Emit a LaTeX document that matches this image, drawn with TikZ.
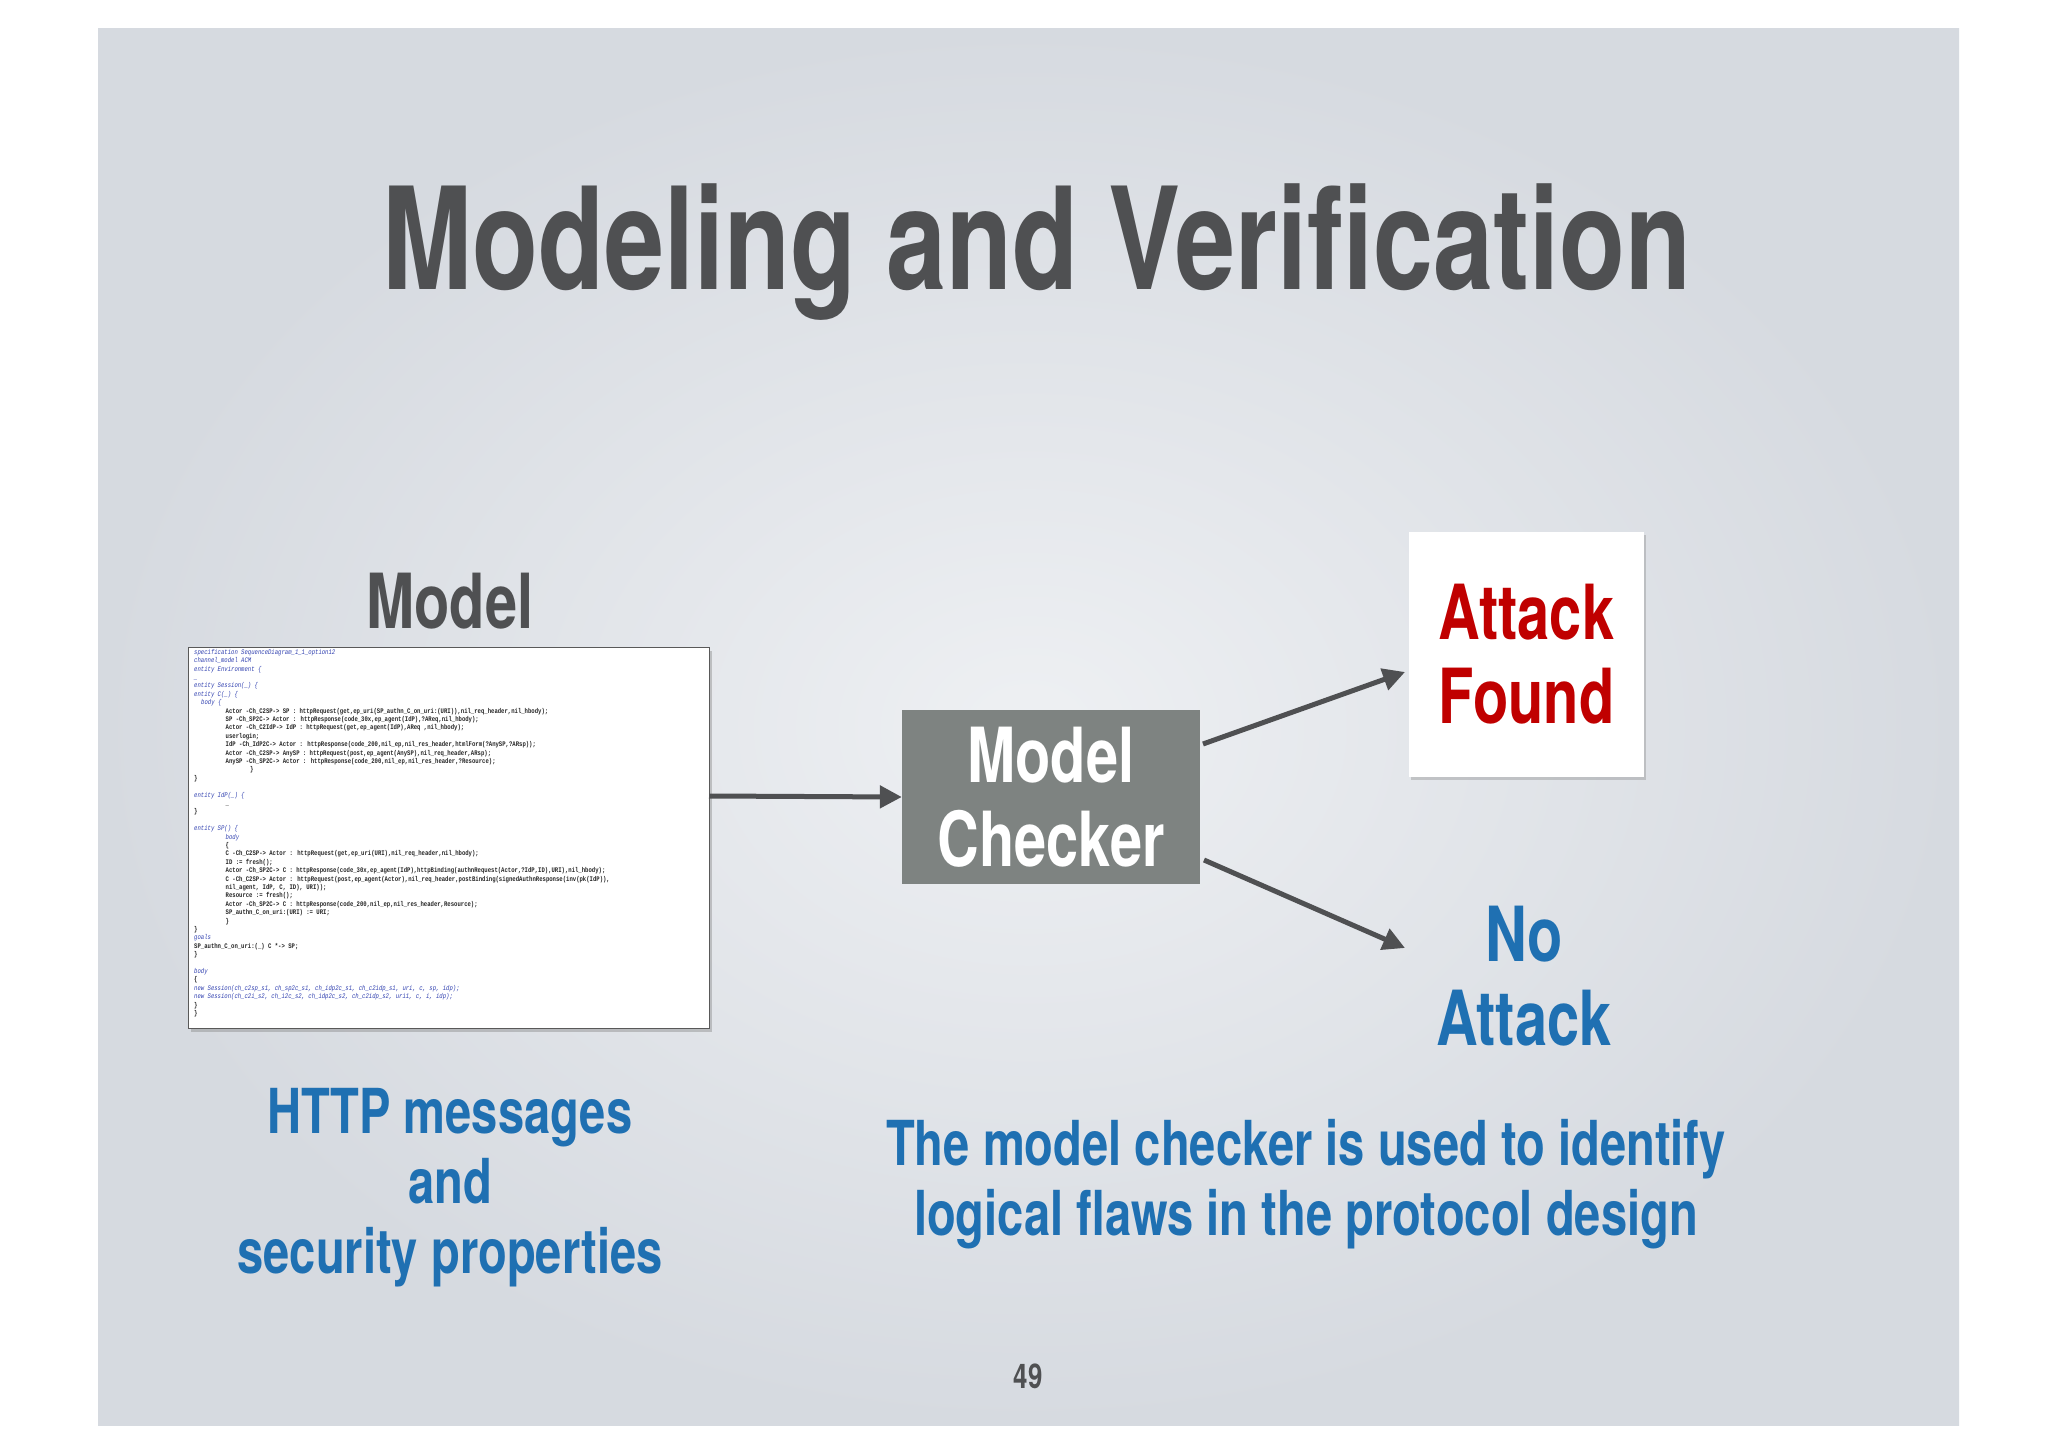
\documentclass[tikz,border=0pt]{standalone}
\usepackage{fontspec}
\setmainfont{TeX Gyre Heros}
\newfontfamily\cond[FakeStretch=0.76]{TeX Gyre Heros}
\newfontfamily\codef[FakeStretch=0.8]{Liberation Mono}
\usetikzlibrary{shadows,arrows.meta}
\definecolor{ttl}{HTML}{4F5052}
\definecolor{bl}{HTML}{1F70B2}
\definecolor{rd}{HTML}{C00000}
\definecolor{mc}{HTML}{7E8381}
\definecolor{kw}{HTML}{3040B0}
\definecolor{bgin}{HTML}{EEF0F3}
\definecolor{bgout}{HTML}{D6DAE0}
\newcommand\kw[1]{{\color{kw}\mdseries\itshape #1}}
\begin{document}
\begin{tikzpicture}[x=1pt,y=-1pt,
  big/.style={font=\cond\bfseries\fontsize{76}{84}\selectfont,align=center},
  arr/.style={draw=ttl,line width=5pt,-{Triangle[length=22pt,width=22pt]}}]
\useasboundingbox (0,0) rectangle (2048,1447);
\fill[white] (0,0) rectangle (2048,1447);
\shade[inner color=bgin, outer color=bgout] (98,29) rectangle (1959,1425);
\node[font=\cond\bfseries\fontsize{142}{150}\selectfont,text=ttl] (title) at (1037,252) {Modeling and Verification};
\node[big,text=ttl] (mlabel) at (450,601) {Model};
\node[draw=gray!70!black,line width=1pt,fill=white,drop shadow={shadow xshift=3pt,shadow yshift=-4pt,opacity=0.4},
  minimum width=521pt,minimum height=381pt,inner sep=0pt] (code) at (448.5,837.5) {};
\node[anchor=north west,inner sep=0pt,align=left,font=\codef\bfseries\fontsize{7}{8.4}\selectfont,text=black!85] at (194,649) {%
\kw{specification SequenceDiagram\_1\_1\_option12}\\
\kw{channel\_model ACM}\\
\kw{entity Environment \{}\\
\kw{\_}\\
\kw{entity Session(\_) \{}\\
\kw{entity C(\_) \{}\\
\hspace*{1em}\kw{body \{}\\
\hspace*{4.5em}Actor -Ch\_C2SP-> SP : httpRequest(get,ep\_uri(SP\_authn\_C\_on\_uri:(URI)),nil\_req\_header,nil\_hbody);\\
\hspace*{4.5em}SP -Ch\_SP2C-> Actor : httpResponse(code\_30x,ep\_agent(IdP),?AReq,nil\_hbody);\\
\hspace*{4.5em}Actor -Ch\_C2IdP-> IdP : httpRequest(get,ep\_agent(IdP),AReq ,nil\_hbody);\\
\hspace*{4.5em}userlogin;\\
\hspace*{4.5em}IdP -Ch\_IdP2C-> Actor : httpResponse(code\_200,nil\_ep,nil\_res\_header,htmlForm(?AnySP,?ARsp));\\
\hspace*{4.5em}Actor -Ch\_C2SP-> AnySP : httpRequest(post,ep\_agent(AnySP),nil\_req\_header,ARsp);\\
\hspace*{4.5em}AnySP -Ch\_SP2C-> Actor : httpResponse(code\_200,nil\_ep,nil\_res\_header,?Resource);\\
\hspace*{8em}\}\\
\}\\[8.4pt]
\kw{entity IdP(\_) \{}\\
\hspace*{4.5em}\_\\
\}\\[8.4pt]
\kw{entity SP() \{}\\
\hspace*{4.5em}\kw{body}\\
\hspace*{4.5em}\{\\
\hspace*{4.5em}C -Ch\_C2SP-> Actor : httpRequest(get,ep\_uri(URI),nil\_req\_header,nil\_hbody);\\
\hspace*{4.5em}ID := fresh();\\
\hspace*{4.5em}Actor -Ch\_SP2C-> C : httpResponse(code\_30x,ep\_agent(IdP),httpBinding(authnRequest(Actor,?IdP,ID),URI),nil\_hbody);\\
\hspace*{4.5em}C -Ch\_C2SP-> Actor : httpRequest(post,ep\_agent(Actor),nil\_req\_header,postBinding(signedAuthnResponse(inv(pk(IdP)),\\
\hspace*{4.5em}nil\_agent, IdP, C, ID), URI));\\
\hspace*{4.5em}Resource := fresh();\\
\hspace*{4.5em}Actor -Ch\_SP2C-> C : httpResponse(code\_200,nil\_ep,nil\_res\_header,Resource);\\
\hspace*{4.5em}SP\_authn\_C\_on\_uri:(URI) := URI;\\
\hspace*{4.5em}\}\\
\}\\
\kw{goals}\\
SP\_authn\_C\_on\_uri:(\_) C *-> SP;\\
\}\\[8.4pt]
\kw{body}\\
\{\\
\kw{new Session(ch\_c2sp\_s1, ch\_sp2c\_s1, ch\_idp2c\_s1, ch\_c2idp\_s1, uri, c, sp, idp);}\\
\kw{new Session(ch\_c2i\_s2, ch\_i2c\_s2, ch\_idp2c\_s2, ch\_c2idp\_s2, uri1, c, i, idp);}\\
\}\\
\}};
\node[big,fill=mc,text=white,minimum width=298pt,minimum height=174pt,inner sep=0pt] (mc) at (1051,797) {Model\\Checker};
\node[big,fill=white,text=rd,minimum width=235pt,minimum height=245pt,inner sep=0pt,
  drop shadow={shadow xshift=2pt,shadow yshift=-3pt,opacity=0.35}] (af) at (1526.5,654.5) {Attack\\Found};
\node[big,text=bl] (na) at (1524,976) {No\\Attack};
\coordinate (s0) at (709,796);
\coordinate (t1) at (1405,672);
\coordinate (t2) at (1405,948);
\draw[arr] (s0) -- (mc.west);
\draw[arr] (1203,744) -- (t1);
\draw[arr] (1204,860) -- (t2);
\node[font=\cond\bfseries\fontsize{62}{70}\selectfont,text=bl,align=center] (http) at (450,1188) {HTTP messages\\and\\security properties};
\node[font=\cond\bfseries\fontsize{62}{70}\selectfont,text=bl,align=center] (desc) at (1306,1184) {The model checker is used to identify\\logical flaws in the protocol design};
\node[font=\cond\bfseries\fontsize{34}{40}\selectfont,text=ttl] (num) at (1028,1376) {49};
\end{tikzpicture}
\end{document}
